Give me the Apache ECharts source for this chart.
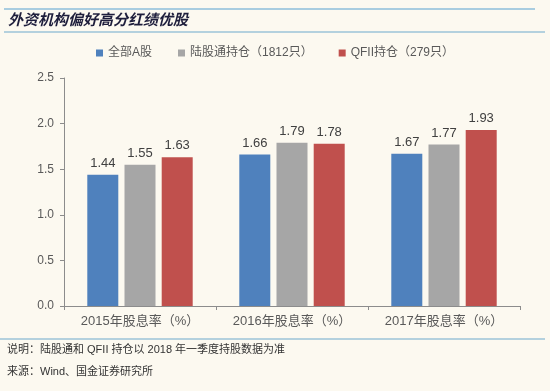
<!DOCTYPE html>
<html>
<head>
<meta charset="utf-8">
<script src="https://cdn.jsdelivr.net/npm/echarts@6/dist/echarts.min.js"></script>
<style>
html,body{margin:0;padding:0;background:#FCF9F0;}
#c{width:550px;height:391px;}
</style>
</head>
<body>
<div id="c"></div>
<script>
var categories = ['2015年股息率（%）', '2016年股息率（%）', '2017年股息率（%）'];
var seriesNames = ['全部A股', '陆股通持仓（1812只）', 'QFII持仓（279只）'];
var allA = [1.44, 1.66, 1.67];
var northbound = [1.55, 1.79, 1.77];
var qfii = [1.63, 1.78, 1.93];
var yTicks = [0, 0.5, 1.0, 1.5, 2.0, 2.5];
var colors = ['#4F81BD', '#A6A6A6', '#C0504D'];
var titleText = '外资机构偏好高分红绩优股';
var note1 = '说明：陆股通和 QFII 持仓以 2018 年一季度持股数据为准';
var note2 = '来源：Wind、国金证券研究所';

var font = '"Liberation Sans", "Noto Sans CJK SC", Arial, sans-serif';
var cjk = '"Noto Sans CJK SC", sans-serif';
var chart = echarts.init(document.getElementById('c'));
var dataArr = [allA, northbound, qfii];
var series = seriesNames.map(function (n, i) {
  return {
    name: n, type: 'bar', data: dataArr[i], barWidth: 31, barGap: '20%',
    itemStyle: { color: colors[i] },
    label: { show: true, position: 'top', distance: 5, color: '#404040', fontSize: 13, fontFamily: font,
      formatter: function (p) { return p.value.toFixed(2); } }
  };
});
chart.setOption({
  backgroundColor: '#FCF9F0',
  animation: false,
  textStyle: { fontFamily: font },
  legend: {
    top: 42, left: 'center', itemWidth: 7, itemHeight: 7, itemGap: 26, icon: 'rect',
    textStyle: { color: '#595959', fontSize: 12, fontFamily: font },
    data: seriesNames
  },
  grid: { left: 64, right: 30, top: 78, bottom: 85 },
  xAxis: {
    type: 'category', data: categories,
    axisLine: { lineStyle: { color: '#8C8C8C' } },
    axisTick: { show: true, length: 4, lineStyle: { color: '#8C8C8C' } },
    axisLabel: { color: '#595959', fontSize: 13, margin: 9, fontFamily: font, interval: 0 }
  },
  yAxis: {
    type: 'value', min: yTicks[0], max: yTicks[yTicks.length - 1], interval: 0.5,
    axisLine: { show: true, lineStyle: { color: '#8C8C8C' } },
    axisTick: { show: true, length: 4, lineStyle: { color: '#8C8C8C' } },
    splitLine: { show: false },
    axisLabel: { color: '#595959', fontSize: 12, margin: 10, fontFamily: font,
      formatter: function (v) { return v.toFixed(1); } }
  },
  series: series,
  graphic: [
    { type: 'line', shape: { x1: 4, y1: 9, x2: 535, y2: 9 }, style: { stroke: '#A9CDE0', lineWidth: 2 } },
    { type: 'line', shape: { x1: 4, y1: 32, x2: 545, y2: 32 }, style: { stroke: '#9CC3D8', lineWidth: 1.5 } },
    { type: 'text', left: 8, top: 12, style: { text: titleText, fill: '#1E1E3C', font: 'italic bold 15px ' + cjk } },
    { type: 'line', shape: { x1: 0, y1: 339, x2: 545, y2: 339 }, style: { stroke: '#9CC3D8', lineWidth: 1.5 } },
    { type: 'text', left: 7, top: 344, style: { text: note1, fill: '#333333', font: '11px ' + font } },
    { type: 'text', left: 7, top: 366, style: { text: note2, fill: '#333333', font: '11px ' + font } }
  ]
});
</script>
</body>
</html>
